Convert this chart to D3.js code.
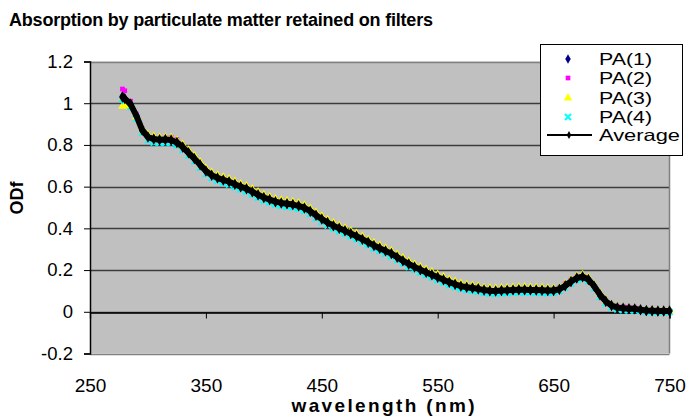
<!DOCTYPE html>
<html><head><meta charset="utf-8">
<script src="https://cdn.jsdelivr.net/npm/d3@7"></script>
<style>
html,body{margin:0;padding:0;background:#fff;}
svg{display:block;}
text{font-family:"Liberation Sans",Arial,sans-serif;}
</style></head>
<body>
<svg id="chart" width="689" height="418"></svg>
<script>
const titleText = "Absorption by particulate matter retained on filters";
const xTitle = "wavelength (nm)";
const yTitle = "ODf";
const xTicks = [250, 350, 450, 550, 650, 750];
const yTicks = [-0.2, 0, 0.2, 0.4, 0.6, 0.8, 1, 1.2];
const yTickLabels = ["-0.2", "0", "0.2", "0.4", "0.6", "0.8", "1", "1.2"];
const seriesNames = ["PA(1)", "PA(2)", "PA(3)", "PA(4)", "Average"];

const wavelength = [278,280,285,290,295,300,305,310,315,320,325,330,335,340,345,350,355,360,365,370,375,380,385,390,395,400,405,410,415,420,425,430,435,440,445,450,455,460,465,470,475,480,485,490,495,500,505,510,515,520,525,530,535,540,545,550,555,560,565,570,575,580,585,590,595,600,605,610,615,620,625,630,635,640,645,650,655,660,665,670,675,680,685,690,695,700,705,710,715,720,725,730,735,740,745,750];

const average = [1.030,1.022,0.995,0.940,0.872,0.838,0.828,0.825,0.826,0.824,0.812,0.790,0.762,0.735,0.705,0.675,0.655,0.642,0.632,0.624,0.612,0.600,0.590,0.576,0.561,0.548,0.538,0.528,0.522,0.518,0.514,0.508,0.498,0.482,0.463,0.445,0.428,0.413,0.400,0.388,0.375,0.362,0.348,0.333,0.318,0.305,0.292,0.279,0.262,0.245,0.229,0.215,0.202,0.190,0.178,0.166,0.154,0.142,0.132,0.123,0.118,0.114,0.110,0.104,0.101,0.100,0.102,0.103,0.105,0.106,0.106,0.105,0.104,0.103,0.102,0.102,0.108,0.125,0.145,0.162,0.168,0.155,0.123,0.082,0.050,0.030,0.020,0.017,0.015,0.014,0.010,0.006,0.005,0.004,0.004,0.004];

const pa1 = [1.035,1.025,0.992,0.935,0.868,0.835,0.826,0.822,0.823,0.821,0.809,0.787,0.759,0.732,0.702,0.672,0.652,0.639,0.629,0.621,0.609,0.597,0.587,0.573,0.558,0.545,0.535,0.525,0.519,0.515,0.511,0.505,0.495,0.479,0.460,0.442,0.425,0.410,0.397,0.385,0.372,0.359,0.345,0.330,0.315,0.302,0.289,0.276,0.259,0.242,0.226,0.212,0.199,0.187,0.175,0.163,0.151,0.139,0.129,0.120,0.115,0.111,0.106,0.100,0.097,0.097,0.099,0.100,0.102,0.103,0.103,0.102,0.101,0.100,0.099,0.099,0.105,0.122,0.142,0.159,0.165,0.152,0.120,0.079,0.047,0.027,0.017,0.014,0.012,0.011,0.007,0.003,0.002,0.001,0.001,0.001];

const pa2 = [1.068,1.060,1.010,0.948,0.878,0.842,0.833,0.830,0.833,0.836,0.826,0.800,0.768,0.739,0.708,0.678,0.658,0.645,0.635,0.627,0.615,0.603,0.593,0.579,0.564,0.551,0.541,0.531,0.525,0.521,0.517,0.511,0.501,0.485,0.466,0.448,0.431,0.416,0.403,0.391,0.378,0.365,0.351,0.336,0.321,0.308,0.295,0.282,0.265,0.248,0.232,0.218,0.205,0.193,0.181,0.169,0.157,0.145,0.135,0.126,0.121,0.117,0.113,0.107,0.104,0.103,0.105,0.106,0.108,0.109,0.109,0.108,0.107,0.106,0.105,0.106,0.115,0.134,0.152,0.166,0.170,0.157,0.124,0.084,0.053,0.033,0.025,0.024,0.022,0.019,0.012,0.007,0.005,0.004,0.004,0.004];

const pa3 = [0.985,0.990,0.980,0.935,0.880,0.850,0.840,0.836,0.836,0.834,0.822,0.802,0.775,0.748,0.718,0.688,0.668,0.655,0.645,0.637,0.625,0.613,0.603,0.589,0.574,0.561,0.551,0.541,0.535,0.531,0.527,0.521,0.511,0.495,0.476,0.458,0.441,0.426,0.413,0.401,0.388,0.375,0.361,0.346,0.331,0.318,0.305,0.292,0.275,0.258,0.242,0.228,0.215,0.203,0.191,0.179,0.167,0.155,0.145,0.136,0.130,0.126,0.122,0.116,0.113,0.112,0.114,0.115,0.117,0.118,0.118,0.117,0.116,0.115,0.113,0.112,0.116,0.133,0.153,0.171,0.178,0.164,0.131,0.090,0.057,0.035,0.024,0.020,0.018,0.016,0.011,0.007,0.006,0.005,0.005,0.005];

const pa4 = [1.020,1.012,0.982,0.925,0.858,0.822,0.812,0.810,0.811,0.810,0.798,0.776,0.748,0.721,0.691,0.661,0.641,0.628,0.618,0.610,0.598,0.586,0.576,0.562,0.547,0.534,0.524,0.514,0.508,0.504,0.500,0.494,0.484,0.468,0.449,0.431,0.414,0.399,0.386,0.374,0.361,0.348,0.334,0.319,0.304,0.291,0.278,0.265,0.248,0.231,0.215,0.201,0.188,0.176,0.164,0.152,0.140,0.128,0.119,0.110,0.105,0.101,0.097,0.091,0.088,0.087,0.089,0.090,0.092,0.093,0.093,0.092,0.091,0.090,0.090,0.092,0.100,0.116,0.136,0.153,0.159,0.146,0.113,0.073,0.041,0.022,0.012,0.009,0.008,0.007,0.004,0.001,0.000,-0.001,-0.001,-0.001];

const svg = d3.select("#chart");
const L = 90, R = 669.5, T = 61.5, B = 353.5;
const x = d3.scaleLinear().domain([250, 750]).range([L, R]);
const y = d3.scaleLinear().domain([-0.2, 1.2]).range([B, T]);

svg.append("rect").attr("width", 689).attr("height", 418).attr("fill", "#fff");

// title
svg.append("text").attr("x", 9).attr("y", 26)
  .attr("font-size", 18).attr("font-weight", "bold").attr("fill", "#000")
  .attr("textLength", 424).attr("lengthAdjust", "spacing")
  .text(titleText);

// plot area
svg.append("rect").attr("x", L).attr("y", T).attr("width", R - L).attr("height", B - T)
  .attr("fill", "#c0c0c0");

// gridlines
svg.append("g").selectAll("line").data(yTicks).join("line")
  .attr("x1", L).attr("x2", R)
  .attr("y1", d => Math.round(y(d)) + 0.5).attr("y2", d => Math.round(y(d)) + 0.5)
  .attr("stroke", (d, i) => (i === 0 || i === yTicks.length - 1) ? "#808080" : "#3c3c3c")
  .attr("stroke-width", (d, i) => (i === 0 || i === yTicks.length - 1) ? 1.5 : 1.3);
// right border
svg.append("line").attr("x1", R).attr("x2", R).attr("y1", T).attr("y2", B)
  .attr("stroke", "#808080").attr("stroke-width", 1.5);

// y axis
const yAxis = d3.axisLeft(y).tickValues(yTicks).tickSize(6).tickPadding(11)
  .tickFormat((d, i) => yTickLabels[i]);
const gy = svg.append("g").attr("transform", `translate(${L},0)`).call(yAxis);
gy.select(".domain").attr("stroke", "#000").attr("stroke-width", 1.5);
gy.selectAll(".tick line").attr("stroke", "#000");
gy.selectAll(".tick text").attr("font-size", 18.5).attr("fill", "#000")
  .attr("font-family", "Liberation Sans, Arial, sans-serif");

// x axis at y=0 with ticks
const xAxis = d3.axisBottom(x).tickValues(xTicks).tickSize(6).tickFormat("");
const gx = svg.append("g").attr("transform", `translate(0,${Math.round(y(0)) + 0.5})`).call(xAxis);
gx.select(".domain").attr("stroke", "#000").attr("stroke-width", 1.3);
gx.selectAll(".tick line").attr("stroke", "#000");

// x tick labels at bottom
const xLab = d3.axisBottom(x).tickValues(xTicks).tickSize(0).tickPadding(25).tickFormat(d3.format("d"));
const gxl = svg.append("g").attr("transform", `translate(0,${B})`).call(xLab);
gxl.select(".domain").remove();
gxl.selectAll(".tick text").attr("font-size", 19).attr("fill", "#000")
  .attr("font-family", "Liberation Sans, Arial, sans-serif");

// axis titles
svg.append("text").attr("x", 383).attr("y", 412).attr("text-anchor", "middle")
  .attr("font-size", 19).attr("font-weight", "bold")
  .attr("textLength", 183).attr("lengthAdjust", "spacing").text(xTitle);
svg.append("text").attr("transform", "translate(23,198) rotate(-90)").attr("text-anchor", "middle")
  .attr("font-size", 18).attr("font-weight", "bold").text(yTitle);

// series
const specs = [
  {name: seriesNames[0], data: pa1, color: "#000080", type: d3.symbolDiamond, size: 26, stroke: false},
  {name: seriesNames[1], data: pa2, color: "#ff00ff", type: d3.symbolSquare, size: 22, stroke: false},
  {name: seriesNames[2], data: pa3, color: "#ffff00", type: d3.symbolTriangle, size: 32, stroke: false},
  {name: seriesNames[3], data: pa4, color: "#00ffff", type: d3.symbolX, size: 26, stroke: true}
];
const plotG = svg.append("g");
specs.forEach(s => {
  const pts = wavelength.map((w, i) => [w, s.data[i]]).filter(p => p[1] !== undefined);
  const sym = d3.symbol().type(s.type).size(s.size);
  plotG.append("g").selectAll("path").data(pts).join("path")
    .attr("transform", p => `translate(${x(p[0])},${y(p[1])})`)
    .attr("d", sym)
    .attr("fill", s.stroke ? "none" : s.color)
    .attr("stroke", s.stroke ? s.color : "none")
    .attr("stroke-width", 2);
});
const avgPts = wavelength.map((w, i) => [w, average[i]]);
plotG.append("path").datum(avgPts)
  .attr("d", d3.line().x(p => x(p[0])).y(p => y(p[1])))
  .attr("fill", "none").attr("stroke", "#000").attr("stroke-width", 6).attr("stroke-linejoin", "round");
plotG.append("g").selectAll("path").data(avgPts).join("path")
  .attr("transform", p => `translate(${x(p[0])},${y(p[1])})`)
  .attr("d", d3.symbol().type(d3.symbolDiamond).size(38))
  .attr("fill", "#000");

// legend
const lg = svg.append("g");
lg.append("rect").attr("x", 540.5).attr("y", 44.5).attr("width", 142).attr("height", 111)
  .attr("fill", "#fff").attr("stroke", "#000").attr("stroke-width", 1);
const rowY = [59, 78, 98, 117, 135];
const legendW = [53, 53, 53, 53, 81];
specs.forEach((s, i) => {
  lg.append("path").attr("transform", `translate(568,${rowY[i]})`)
    .attr("d", d3.symbol().type(s.type).size(s.size))
    .attr("fill", s.stroke ? "none" : s.color)
    .attr("stroke", s.stroke ? s.color : "none").attr("stroke-width", 2);
});
lg.append("line").attr("x1", 547).attr("x2", 592).attr("y1", rowY[4]).attr("y2", rowY[4])
  .attr("stroke", "#000").attr("stroke-width", 2);
lg.append("path").attr("transform", `translate(569,${rowY[4]})`)
  .attr("d", d3.symbol().type(d3.symbolDiamond).size(18)).attr("fill", "#000");
seriesNames.forEach((n, i) => {
  lg.append("text").attr("x", 599).attr("y", rowY[i]).attr("dy", "0.36em")
    .attr("font-size", 16.5).attr("fill", "#000")
    .attr("textLength", legendW[i]).attr("lengthAdjust", "spacingAndGlyphs").text(n);
});
</script>
</body></html>
